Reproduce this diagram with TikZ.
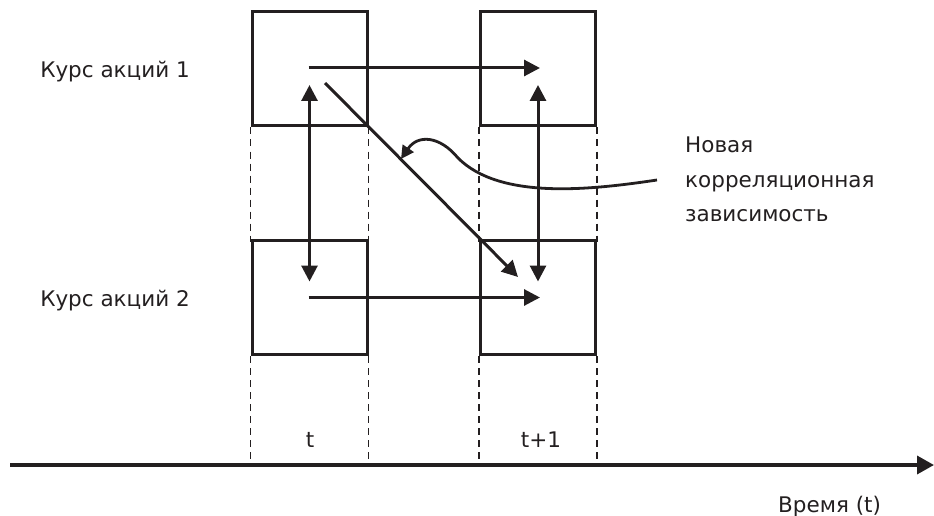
\documentclass[tikz,border=0pt]{standalone}
\usepackage{fontspec}
\setmainfont{DejaVu Sans}
\usetikzlibrary{arrows.meta,calc}
\definecolor{ink}{HTML}{231F20}
\tikzset{
  box/.style={draw=ink, line width=3pt, minimum width=115pt, minimum height=114pt, inner sep=0pt},
  tip/.tip={Triangle[length=16pt,width=16pt]},
  conn/.style={draw=ink, line width=3pt, -tip},
  dconn/.style={draw=ink, line width=3pt, tip-tip},
  guide/.style={draw=ink, line width=1.2pt, dash pattern=on 7pt off 5pt},
  lbl/.style={font=\fontsize{21.5}{34}\selectfont, inner sep=0pt, text=ink},
}
\begin{document}
\begin{tikzpicture}[x=1pt,y=-1pt]
\useasboundingbox (0,0) rectangle (934,516);
% boxes
\node[box] (TL) at (309.5,69) {};
\node[box] (TR) at (538,69) {};
\node[box] (BL) at (309.5,297.5) {};
\node[box] (BR) at (538,297.5) {};
% axis
\coordinate (ax0) at (10,465);
\coordinate (ax1) at (934,465);
\draw[draw=ink, line width=3.5pt, -{Triangle[length=17pt,width=18pt]}] (ax0) -- (ax1);
% dashed guides
\foreach \n/\a in {TL/south west,TL/south east,TR/south west,TR/south east}{
  \draw[guide] (\n.\a) -- ($(\n.\a)+(0,114)$);
}
\foreach \n/\a in {BL/south west,BL/south east,BR/south west,BR/south east}{
  \draw[guide] (\n.\a) -- (\n.\a |- ax0);
}
% arrows
\draw[conn] ($(TL.center)+(-1,-1)$) -- ($(TR.center)+(2,-1)$);
\draw[conn] ($(BL.center)+(-1,0)$) -- ($(BR.center)+(2,0)$);
\draw[dconn] ($(TL.center)+(0,16)$) -- ($(BL.center)+(0,-16)$);
\draw[dconn] ($(TR.center)+(0,16)$) -- ($(BR.center)+(0,-16)$);
\draw[conn] ($(TL.center)+(15.5,14)$) -- ($(BR.center)+(-20,-20.5)$);
% curve
\coordinate (cs) at (657,180);
\coordinate (ce) at (401,159);
\draw[draw=ink, line width=2.8pt, -{Triangle[length=13pt,width=13pt]}] (cs) .. controls (590,190) and (500,200) .. (458,158) .. controls (440,136) and (418,134) .. (ce);
% labels
\node[lbl, anchor=base east] (k1) at (190,78) {Курс акций 1};
\node[lbl, anchor=base east] (k2) at (190,306) {Курс акций 2};
\node[lbl, anchor=base west] (n1) at (685,153) {Новая};
\node[lbl, anchor=base west] (n2) at (685,187) {корреляционная};
\node[lbl, anchor=base west] (n3) at (685,221) {зависимость};
\node[lbl, anchor=base] (t0) at (310,447) {t};
\node[lbl, anchor=base] (t1) at (541,447) {t+1};
\node[lbl, anchor=base west] (tm) at (778,512) {Время (t)};
\end{tikzpicture}
\end{document}
